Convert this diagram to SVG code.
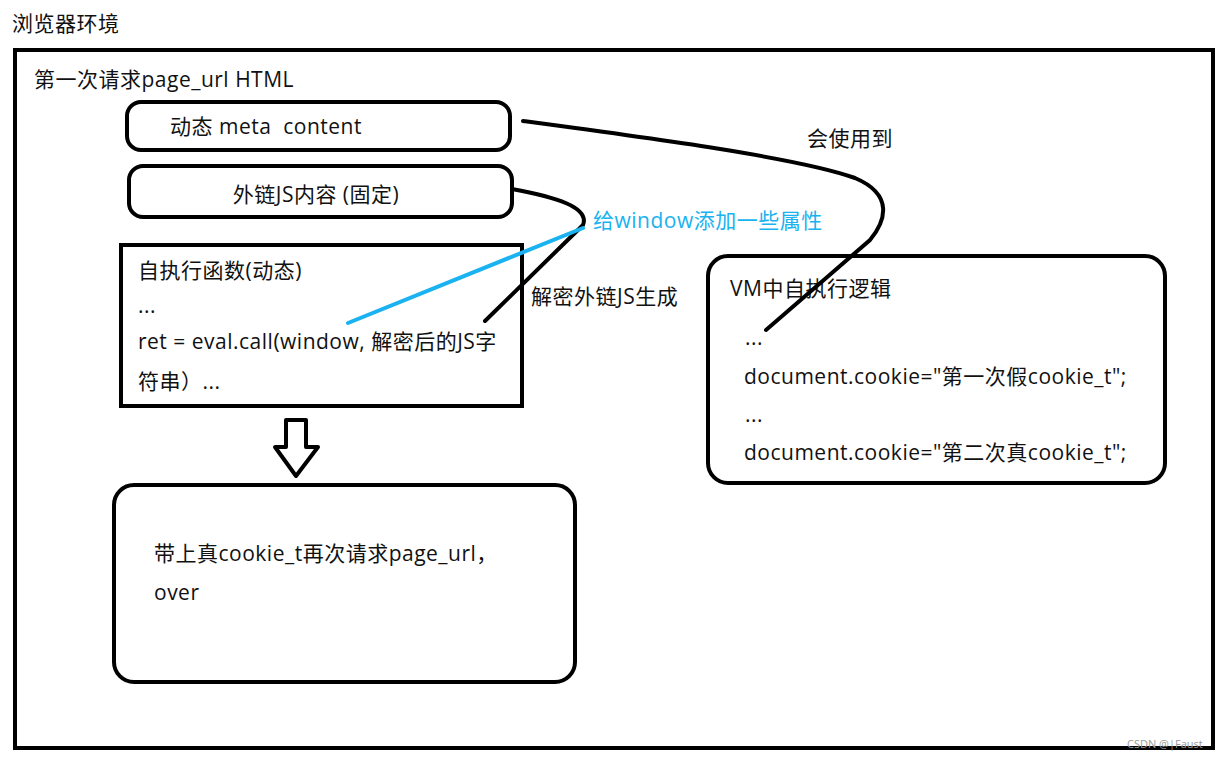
<svg xmlns="http://www.w3.org/2000/svg" width="1228" height="760" viewBox="0 0 1228 760">
<style>
text{font-family:"Open Sans","Noto Sans CJK SC",sans-serif;font-size:21px;fill:#111;letter-spacing:0.5px}
.box{fill:#fff;stroke:#000;stroke-width:4}
.ln{fill:none;stroke:#000;stroke-width:4;stroke-linecap:round}
.blue{fill:#1AB2F0}
</style>
<rect x="0" y="0" width="1228" height="760" fill="#fff"/>
<text x="12" y="31">浏览器环境</text>
<g id="frame">
<rect x="15" y="50" width="1198" height="698" fill="none" stroke="#000" stroke-width="4"/>
<text x="34" y="87">第一次请求page_url HTML</text>
</g>
<g id="meta">
<rect class="box" x="127" y="102" width="383" height="48" rx="14"/>
<text x="170" y="134" xml:space="preserve">动态 meta  content</text>
</g>
<g id="extjs">
<rect class="box" x="129" y="166" width="383" height="51" rx="14"/>
<text x="316" y="202" text-anchor="middle">外链JS内容 (固定)</text>
</g>
<g id="selfexec">
<rect class="box" x="121" y="245" width="401" height="161"/>
<text x="138" y="278">自执行函数(动态)</text>
<text x="138" y="313">...</text>
<text x="138" y="349">ret = eval.call(window, 解密后的JS字</text>
<text x="138" y="389">符串）...</text>
</g>
<g id="vm">
<rect class="box" x="708" y="256" width="457" height="227" rx="20"/>
<text x="730" y="296">VM中自执行逻辑</text>
<text x="745" y="345">...</text>
<text x="744" y="384">document.cookie="第一次假cookie_t";</text>
<text x="745" y="422">...</text>
<text x="744" y="460">document.cookie="第二次真cookie_t";</text>
</g>
<g id="final">
<rect class="box" x="114" y="485" width="461" height="197" rx="20"/>
<text x="154" y="561">带上真cookie_t再次请求page_url，</text>
<text x="154" y="600">over</text>
</g>
<g id="connectors">
<path class="ln" d="M523,121 C650,138 800,158 855,178 C895,195 885,222 870,240 L766,330"/>
<path class="ln" d="M512,189 C555,197 590,207 583,225 L485,321"/>
<path d="M583,228 L348,323" fill="none" stroke="#1AB2F0" stroke-width="4" stroke-linecap="round"/>
<path d="M286,420 L306,420 L306,447 L318,447 L296,476 L275,447 L286,447 Z" fill="#fff" stroke="#000" stroke-width="4" stroke-linejoin="round"/>
<text x="807" y="146">会使用到</text>
<text x="531" y="304">解密外链JS生成</text>
<text x="593" y="228" class="blue">给window添加一些属性</text>
</g>
<text x="1127" y="748" style="font-size:11px;fill:#999;letter-spacing:0">CSDN @|Faust</text>
</svg>
